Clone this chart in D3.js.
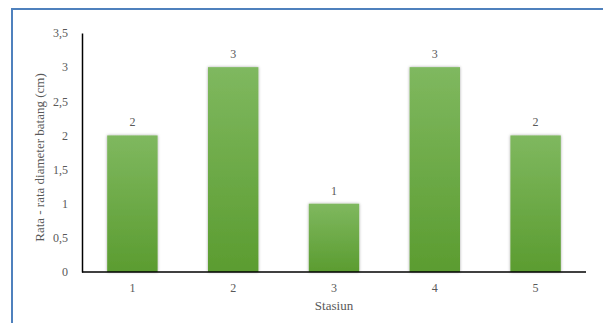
<!DOCTYPE html>
<html><head><meta charset="utf-8">
<script src="https://cdn.jsdelivr.net/npm/d3@7"></script>
<style>html,body{margin:0;padding:0;background:#fff;}svg{display:block;}
svg text{font-family:"Liberation Serif","Times New Roman","DejaVu Serif",serif !important;}</style>
</head><body>
<script>
const categories = ["1","2","3","4","5"];
const values = [2,3,1,3,2];
const yTicks = [0,0.5,1,1.5,2,2.5,3,3.5];
const xTitle = "Stasiun";
const yTitle = "Rata - rata diameter batang (cm)";

(function(){
const W=603,H=323;
const svg=d3.select("body").append("svg").attr("width",W).attr("height",H);
const defs=svg.append("defs");
const g=defs.append("linearGradient").attr("id","bg").attr("x1",0).attr("y1",0).attr("x2",0).attr("y2",1);
g.append("stop").attr("offset","0%").attr("stop-color","#7fb85f");
g.append("stop").attr("offset","100%").attr("stop-color","#5b9c30");
const f=defs.append("filter").attr("id","sh").attr("x","-20%").attr("y","-5%").attr("width","140%").attr("height","110%");
f.append("feDropShadow").attr("dx",0).attr("dy",0).attr("stdDeviation",1.5).attr("flood-color","#000").attr("flood-opacity",0.35);

svg.append("rect").attr("x",12).attr("y",9).attr("width",620).attr("height",340)
  .attr("fill","none").attr("stroke","#4f81bd").attr("stroke-width",2);

const mL=82,mR=586,mT=33,mB=272;
const x=d3.scaleBand().domain(categories).range([mL,mR]).paddingInner(0.5).paddingOuter(0.25);
const y=d3.scaleLinear().domain([0,3.5]).range([mB,mT]);
const font="Liberation Serif";

svg.append("g").selectAll("text").data(values).join("text")
  .attr("x",(d,i)=>x(categories[i])+x.bandwidth()/2).attr("y",d=>y(d)-9)
  .attr("text-anchor","middle").attr("font-family",font).attr("font-size",12).attr("fill","#595959")
  .text(d=>d);

svg.append("g").selectAll("rect").data(values).join("rect")
  .attr("x",(d,i)=>x(categories[i])).attr("width",x.bandwidth())
  .attr("y",d=>y(d)).attr("height",d=>y(0)-y(d))
  .attr("fill","url(#bg)").attr("filter","url(#sh)");

const yAxis=svg.append("g").attr("transform",`translate(${mL},0)`)
  .call(d3.axisLeft(y).tickValues(yTicks).tickSize(0).tickPadding(14).tickFormat(d=>String(d).replace(".",",")));
yAxis.attr("font-family",font);
yAxis.select(".domain").attr("stroke","#000").attr("stroke-width",1.5);
yAxis.selectAll("text").attr("font-size",12).attr("fill","#595959");

const xAxis=svg.append("g").attr("transform",`translate(0,${mB})`)
  .call(d3.axisBottom(x).tickSize(0).tickPadding(11));
xAxis.attr("font-family",font);
xAxis.select(".domain").attr("stroke","#000").attr("stroke-width",1.5).attr("d",`M${mL},0H${mR}`);
xAxis.selectAll("text").attr("font-size",12).attr("fill","#595959");

svg.append("text").attr("x",(mL+mR)/2).attr("y",310).attr("text-anchor","middle")
  .attr("font-size",13).attr("fill","#595959").text(xTitle);
svg.append("text").attr("transform",`translate(44,${(mT+mB)/2+5}) rotate(-90)`).attr("text-anchor","middle")
  .attr("font-size",13).attr("fill","#595959").text(yTitle);
})();
</script>
</body></html>
